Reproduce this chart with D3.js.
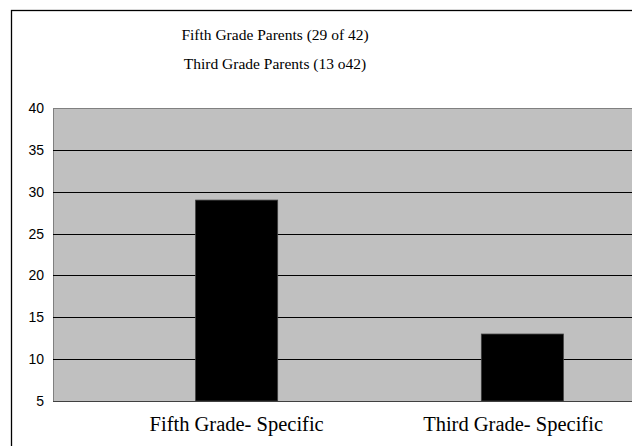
<!DOCTYPE html>
<html>
<head>
<meta charset="utf-8">
<script src="https://cdn.jsdelivr.net/npm/d3@7"></script>
<style>
  html, body { margin: 0; padding: 0; background: #fff; }
  svg { display: block; }
</style>
</head>
<body>
<svg id="chart" width="632" height="446"></svg>
<script>
// Parents responding "grade-specific", by grade
const categories = ["Fifth Grade- Specific", "Third Grade- Specific"];
const values = [29, 13];
const titleLines = ["Fifth Grade Parents (29 of 42)", "Third Grade Parents (13 o42)"];
const yTicks = [5, 10, 15, 20, 25, 30, 35, 40];

const W = 632, H = 446;
const plot = { left: 53, top: 108, bottom: 401, right: 706 };

const svg = d3.select("#chart");

// outer chart frame (runs past the right and bottom edges)
svg.append("rect")
  .attr("x", 11.5).attr("y", 10.5)
  .attr("width", 700).attr("height", 500)
  .attr("fill", "#fff").attr("stroke", "#000").attr("stroke-width", 1.3);

const y = d3.scaleLinear().domain([5, 40]).range([plot.bottom, plot.top]);
const x = d3.scaleBand().domain(categories)
  .range([plot.left, plot.right])
  .paddingInner(0.7128).paddingOuter(0.4991);

// plot area
svg.append("rect")
  .attr("x", plot.left + 0.5).attr("y", plot.top + 0.5)
  .attr("width", plot.right - plot.left).attr("height", plot.bottom - plot.top)
  .attr("fill", "#c0c0c0").attr("stroke", "#808080").attr("stroke-width", 1);

// horizontal gridlines
svg.append("g")
  .selectAll("line")
  .data(yTicks.filter(t => t > 5 && t < 40))
  .join("line")
  .attr("x1", plot.left).attr("x2", plot.right)
  .attr("y1", d => Math.round(y(d)) + 0.5).attr("y2", d => Math.round(y(d)) + 0.5)
  .attr("stroke", "#000").attr("stroke-width", 1);

// bars
svg.append("g")
  .selectAll("rect")
  .data(values)
  .join("rect")
  .attr("x", (d, i) => x(categories[i]))
  .attr("width", x.bandwidth())
  .attr("y", d => y(d))
  .attr("height", d => y(5) - y(d))
  .attr("fill", "#000")
  .attr("stroke", "#404040").attr("stroke-width", 0.8);

// baseline
svg.append("line")
  .attr("x1", plot.left).attr("x2", plot.right)
  .attr("y1", plot.bottom + 0.5).attr("y2", plot.bottom + 0.5)
  .attr("stroke", "#404040").attr("stroke-width", 1);

// y axis labels
const yAxis = d3.axisLeft(y).tickValues(yTicks).tickSize(0).tickPadding(9);
const gy = svg.append("g").attr("transform", `translate(${plot.left},0)`).call(yAxis);
gy.select(".domain").remove();
gy.selectAll("text")
  .attr("font-family", "'Liberation Sans', Arial, sans-serif")
  .attr("font-size", 14).attr("fill", "#000");

// category labels, kept inside the frame on the right
svg.append("g")
  .selectAll("text")
  .data(categories)
  .join("text")
  .attr("y", 431)
  .attr("text-anchor", "middle")
  .attr("font-family", "'Liberation Serif', 'Times New Roman', serif")
  .attr("font-size", 20.5)
  .attr("fill", "#000")
  .text(d => d)
  .attr("x", function (d) {
    const c = x(d) + x.bandwidth() / 2;
    const w = this.getComputedTextLength();
    return Math.min(c, W - 29 - w / 2);
  });

// title lines
svg.append("g")
  .selectAll("text")
  .data(titleLines)
  .join("text")
  .attr("x", 275)
  .attr("y", (d, i) => 39.5 + i * 29)
  .attr("text-anchor", "middle")
  .attr("font-family", "'Liberation Serif', 'Times New Roman', serif")
  .attr("font-size", 15.5)
  .attr("fill", "#000")
  .text(d => d);
</script>
</body>
</html>
